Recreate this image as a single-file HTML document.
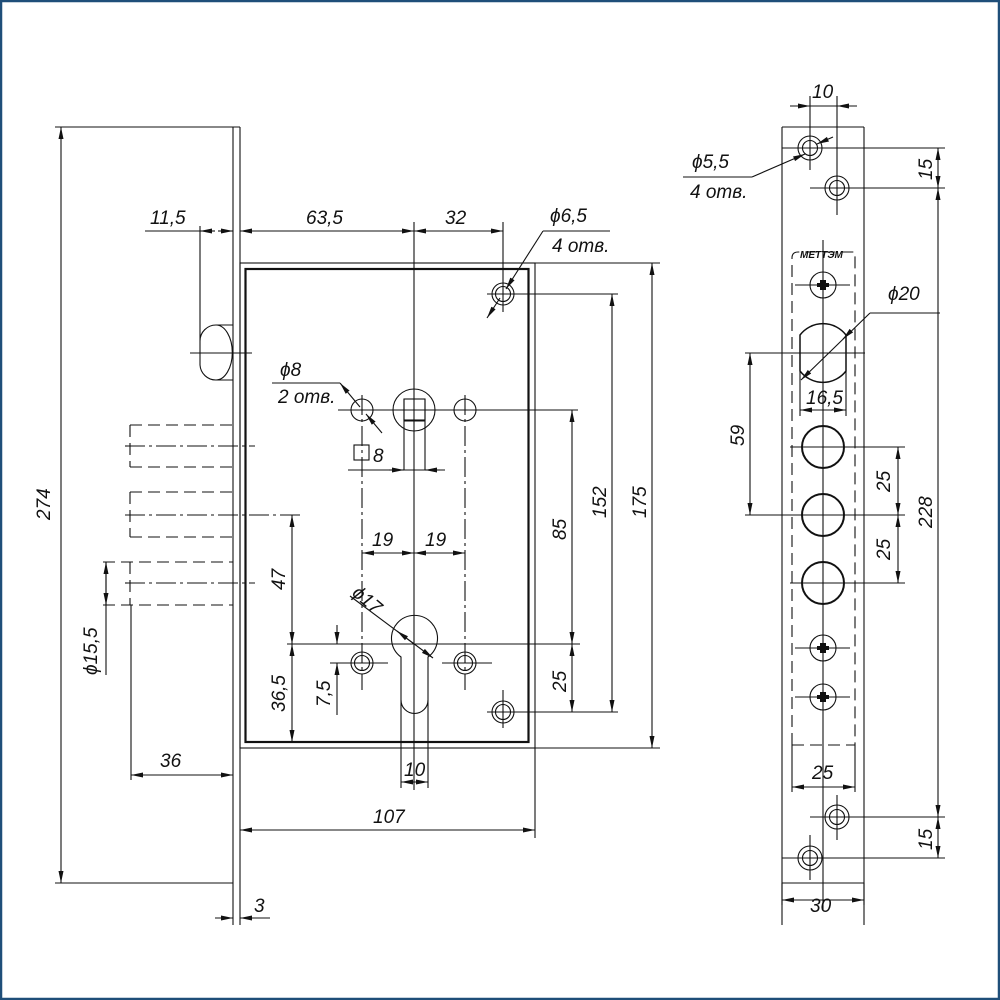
<!DOCTYPE html>
<html><head><meta charset="utf-8"><style>
html,body{margin:0;padding:0;background:#fff}
svg{display:block}
text{font-family:"Liberation Sans",sans-serif;font-style:italic;font-size:19px;fill:#111}
</style></head><body>
<svg width="1000" height="1000" viewBox="0 0 1000 1000" xmlns="http://www.w3.org/2000/svg">
<defs>
<marker id="a" viewBox="0 0 12 6" refX="12" refY="3" markerWidth="12" markerHeight="6" orient="auto-start-reverse" markerUnits="userSpaceOnUse"><path d="M0,0.5 L12,3 L0,5.5z" fill="#111"/></marker>
</defs>
<rect x="1" y="1" width="998" height="998" fill="none" stroke="#1f4e79" stroke-width="2.5"/>
<g stroke="#111" stroke-width="1.1" fill="none">
<line x1="233" y1="127" x2="233" y2="925"/>
<line x1="240" y1="127" x2="240" y2="925"/>
<line x1="55" y1="127" x2="240" y2="127"/>
<line x1="55" y1="883" x2="233" y2="883"/>
<line x1="61" y1="127" x2="61" y2="883" marker-start="url(#a)" marker-end="url(#a)"/>
<rect x="240" y="263" width="295" height="485"/>
<rect x="245.5" y="269" width="283" height="473" stroke-width="2.2"/>
<line x1="535" y1="748" x2="535" y2="838"/>
<path d="M200,226 V365 A16,16 0 0 0 216,380 H233 M216,325 A16,16 0 0 0 200,341 M216,325 H233"/>
<path d="M216,325 A16,27 0 0 1 216,380" />
<line x1="190" y1="353" x2="252" y2="353"/>
<line x1="145" y1="231" x2="200" y2="231"/>
<line x1="200" y1="231" x2="215" y2="231" marker-start="url(#a)"/>
<line x1="218" y1="231" x2="233" y2="231" marker-end="url(#a)"/>
<line x1="240" y1="231" x2="414" y2="231" marker-start="url(#a)" marker-end="url(#a)"/>
<line x1="414" y1="231" x2="503" y2="231" marker-start="url(#a)" marker-end="url(#a)"/>
<line x1="414" y1="222" x2="414" y2="790"/>
<line x1="503" y1="222" x2="503" y2="312"/>
<g stroke-dasharray="12,6">
<path d="M130,425 H233 M130,467 H233 M130,425 V467"/>
<path d="M130,492 H233 M130,537 H233 M130,492 V537"/>
<path d="M103,562 H233 M103,605 H233 M130,562 V605"/>
</g>
<g stroke-dasharray="20,4,3,4">
<line x1="125" y1="446" x2="255" y2="446"/>
<line x1="125" y1="515" x2="300" y2="515"/>
<line x1="125" y1="583" x2="255" y2="583"/>
</g>
<line x1="106" y1="562" x2="106" y2="675" marker-start="url(#a)"/>
<line x1="106" y1="562" x2="106" y2="605" marker-end="url(#a)"/>
<line x1="131" y1="605" x2="131" y2="780"/>
<line x1="131" y1="775" x2="233" y2="775" marker-start="url(#a)" marker-end="url(#a)"/>
<circle cx="503" cy="294" r="11"/><circle cx="503" cy="294" r="7.5"/>
<line x1="487" y1="294" x2="618" y2="294"/>
<line x1="487" y1="318" x2="500" y2="298" marker-start="url(#a)"/>
<line x1="506" y1="289" x2="543" y2="231" marker-start="url(#a)"/>
<line x1="543" y1="231" x2="610" y2="231"/>
<line x1="535" y1="263" x2="660" y2="263"/>
<line x1="652" y1="263" x2="652" y2="748" marker-start="url(#a)" marker-end="url(#a)"/>
<line x1="612" y1="294" x2="612" y2="712" marker-start="url(#a)" marker-end="url(#a)"/>
<circle cx="414" cy="410" r="21"/>
<rect x="404" y="399" width="21" height="21"/>
<path d="M404,399 V470 M425,399 V470 M404,421 H425"/>
<circle cx="362" cy="410" r="11"/><circle cx="465" cy="410" r="11"/>
<line x1="338" y1="410" x2="578" y2="410"/>
<line x1="572" y1="410" x2="572" y2="644" marker-start="url(#a)" marker-end="url(#a)"/>
<line x1="572" y1="644" x2="572" y2="712" marker-start="url(#a)" marker-end="url(#a)"/>
<line x1="272" y1="383" x2="340" y2="383"/>
<line x1="340" y1="383" x2="360" y2="407" marker-start="url(#a)"/>
<line x1="366" y1="414" x2="382" y2="433" marker-start="url(#a)"/>
<rect x="354" y="445" width="15" height="15"/>
<line x1="348" y1="470" x2="445" y2="470"/>
<line x1="389" y1="470" x2="404" y2="470" marker-end="url(#a)"/>
<line x1="440" y1="470" x2="425" y2="470" marker-end="url(#a)"/>
<g stroke-dasharray="20,4,3,4">
<line x1="362" y1="395" x2="362" y2="690"/>
<line x1="465" y1="395" x2="465" y2="690"/>
</g>
<line x1="362" y1="553" x2="414" y2="553" marker-start="url(#a)" marker-end="url(#a)"/>
<line x1="414" y1="553" x2="465" y2="553" marker-start="url(#a)" marker-end="url(#a)"/>
<path d="M401,657 A23,23 0 1 1 428,657 V700 A13.5,13.5 0 0 1 401,700 Z"/>
<line x1="287" y1="644" x2="580" y2="644"/>
<line x1="292" y1="515" x2="292" y2="644" marker-start="url(#a)" marker-end="url(#a)"/>
<line x1="292" y1="644" x2="292" y2="742" marker-start="url(#a)" marker-end="url(#a)"/>
<line x1="350" y1="596" x2="433" y2="658" marker-end="url(#a)"/>
<line x1="414" y1="644" x2="397" y2="631" marker-end="url(#a)"/>
<circle cx="362" cy="663" r="11"/><circle cx="362" cy="663" r="7.5"/>
<circle cx="465" cy="663" r="11"/><circle cx="465" cy="663" r="7.5"/>
<line x1="330" y1="663" x2="388" y2="663"/><line x1="442" y1="663" x2="492" y2="663"/>
<line x1="337" y1="625" x2="337" y2="644" marker-end="url(#a)"/>
<line x1="337" y1="715" x2="337" y2="663" marker-end="url(#a)"/>
<circle cx="503" cy="712" r="11"/><circle cx="503" cy="712" r="7.5"/>
<line x1="487" y1="712" x2="618" y2="712"/>
<line x1="503" y1="690" x2="503" y2="728"/>
<line x1="528" y1="748" x2="660" y2="748"/>
<path d="M401,700 V788 M428,700 V788"/>
<line x1="401" y1="782" x2="428" y2="782" marker-start="url(#a)" marker-end="url(#a)"/>
<line x1="240" y1="830" x2="535" y2="830" marker-start="url(#a)" marker-end="url(#a)"/>
<line x1="215" y1="918" x2="233" y2="918" marker-end="url(#a)"/>
<line x1="270" y1="918" x2="240" y2="918" marker-end="url(#a)"/>
<path d="M782,127 H864 M782,127 V925 M864,127 V925 M782,883 H864"/>
<line x1="810" y1="96" x2="810" y2="170"/><line x1="837" y1="96" x2="837" y2="215"/>
<line x1="790" y1="106" x2="810" y2="106" marker-end="url(#a)"/>
<line x1="857" y1="106" x2="837" y2="106" marker-end="url(#a)"/>
<line x1="810" y1="106" x2="837" y2="106"/>
<circle cx="810" cy="148" r="12"/><circle cx="810" cy="148" r="7.5"/>
<circle cx="837" cy="188" r="12"/><circle cx="837" cy="188" r="7.5"/>
<line x1="782" y1="148" x2="945" y2="148"/>
<line x1="810" y1="188" x2="945" y2="188"/>
<line x1="683" y1="177" x2="752" y2="177"/>
<line x1="752" y1="177" x2="805" y2="154" marker-end="url(#a)"/>
<line x1="833" y1="137" x2="817" y2="144" marker-end="url(#a)"/>
<line x1="938" y1="148" x2="938" y2="188" marker-start="url(#a)" marker-end="url(#a)"/>
<line x1="938" y1="188" x2="938" y2="817" marker-start="url(#a)" marker-end="url(#a)"/>
<line x1="938" y1="817" x2="938" y2="858" marker-start="url(#a)" marker-end="url(#a)"/>
<line x1="823" y1="240" x2="823" y2="910"/>
<path d="M792,745 V258 Q792,252 798,252 H855 V745" stroke-dasharray="12,6"/>
<path d="M792,745 H855" stroke-dasharray="12,6"/>
<circle cx="823" cy="285" r="13"/><line x1="795" y1="285" x2="850" y2="285"/>
<circle cx="823" cy="648" r="13"/><line x1="795" y1="648" x2="850" y2="648"/>
<circle cx="823" cy="697" r="13"/><line x1="795" y1="697" x2="850" y2="697"/>
<path d="M800,335 A29,29 0 0 1 846,335 V371 A29,29 0 0 1 800,371 Z" stroke-width="1.5"/>
<line x1="745" y1="353" x2="865" y2="353"/>
<line x1="801" y1="380" x2="870" y2="313" marker-start="url(#a)"/>
<line x1="870" y1="313" x2="940" y2="313"/>
<line x1="843" y1="339" x2="848" y2="334" marker-start="url(#a)"/>
<path d="M800,371 V416 M846,371 V416"/>
<line x1="800" y1="410" x2="846" y2="410" marker-start="url(#a)" marker-end="url(#a)"/>
<line x1="750" y1="353" x2="750" y2="515" marker-start="url(#a)" marker-end="url(#a)"/>
<circle cx="823" cy="447" r="21" stroke-width="2"/>
<circle cx="823" cy="515" r="21" stroke-width="2"/>
<circle cx="823" cy="583" r="21" stroke-width="2"/>
<line x1="790" y1="447" x2="905" y2="447"/>
<line x1="745" y1="515" x2="905" y2="515"/>
<line x1="790" y1="583" x2="905" y2="583"/>
<line x1="898" y1="447" x2="898" y2="515" marker-start="url(#a)" marker-end="url(#a)"/>
<line x1="898" y1="515" x2="898" y2="583" marker-start="url(#a)" marker-end="url(#a)"/>
<path d="M792,745 V792 M855,745 V792"/>
<line x1="792" y1="787" x2="855" y2="787" marker-start="url(#a)" marker-end="url(#a)"/>
<circle cx="837" cy="817" r="12"/><circle cx="837" cy="817" r="7.5"/>
<circle cx="810" cy="858" r="12"/><circle cx="810" cy="858" r="7.5"/>
<line x1="810" y1="817" x2="945" y2="817"/>
<line x1="782" y1="858" x2="945" y2="858"/>
<line x1="837" y1="795" x2="837" y2="840"/><line x1="810" y1="835" x2="810" y2="880"/>
<path d="M782,883 V905 M864,883 V905"/>
<line x1="782" y1="900" x2="864" y2="900" marker-start="url(#a)" marker-end="url(#a)"/>
</g>
<g fill="#111">
<path d="M820,280 h6 v3 h3 v4 h-3 v3 h-6 v-3 h-3 v-4 h3z"/>
<path d="M820,643 h6 v3 h3 v4 h-3 v3 h-6 v-3 h-3 v-4 h3z"/>
<path d="M820,692 h6 v3 h3 v4 h-3 v3 h-6 v-3 h-3 v-4 h3z"/>
</g>
<text x="150" y="224">11,5</text>
<text x="306" y="224">63,5</text>
<text x="445" y="224">32</text>
<text x="550" y="222">ϕ6,5</text>
<text x="552" y="252">4 отв.</text>
<text x="280" y="376">ϕ8</text>
<text x="278" y="403">2 отв.</text>
<text x="373" y="462">8</text>
<text x="372" y="546">19</text>
<text x="425" y="546">19</text>
<text x="352" y="608" transform="rotate(40 370 600)">ϕ17</text>
<text x="160" y="767">36</text>
<text x="404" y="776">10</text>
<text x="373" y="823">107</text>
<text x="254" y="912">3</text>
<text transform="translate(50,520) rotate(-90)">274</text>
<text transform="translate(285,590) rotate(-90)">47</text>
<text transform="translate(285,712) rotate(-90)">36,5</text>
<text transform="translate(330,707) rotate(-90)">7,5</text>
<text transform="translate(97,675) rotate(-90)">ϕ15,5</text>
<text transform="translate(566,540) rotate(-90)">85</text>
<text transform="translate(566,692) rotate(-90)">25</text>
<text transform="translate(606,518) rotate(-90)">152</text>
<text transform="translate(646,518) rotate(-90)">175</text>
<text x="812" y="98">10</text>
<text x="692" y="168">ϕ5,5</text>
<text x="690" y="198">4 отв.</text>
<text transform="translate(932,180) rotate(-90)">15</text>
<text transform="translate(932,850) rotate(-90)">15</text>
<text transform="translate(932,528) rotate(-90)">228</text>
<text transform="translate(890,492) rotate(-90)">25</text>
<text transform="translate(890,560) rotate(-90)">25</text>
<text transform="translate(744,446) rotate(-90)">59</text>
<text x="888" y="300">ϕ20</text>
<text x="806" y="404">16,5</text>
<text x="812" y="779">25</text>
<text x="810" y="912">30</text>
<text x="800" y="258" style="font-size:10px;font-weight:bold">МЕТТЭМ</text>
</svg>
</body></html>
